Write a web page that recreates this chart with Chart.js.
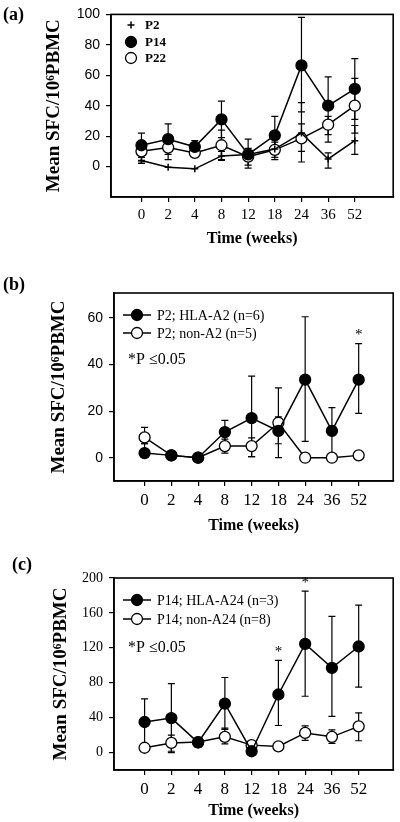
<!DOCTYPE html>
<html><head><meta charset="utf-8">
<script src="https://cdn.jsdelivr.net/npm/chart.js@4.4.0/dist/chart.umd.min.js"></script>
<style>
html,body{margin:0;padding:0;background:#fff;}
#wrap{position:relative;width:400px;height:822px;overflow:hidden;background:#fff;}
canvas{position:absolute;left:0;}
</style></head><body>
<div id="wrap">
<canvas id="ca" width="400" height="250" style="top:0px"></canvas>
<canvas id="cb" width="400" height="270" style="top:270px"></canvas>
<canvas id="cc" width="400" height="282" style="top:540px"></canvas>
</div>
<script>
// ---------- data ----------
const weeks = ['0','2','4','8','12','18','24','36','52'];

// panel (a)
const aTicks = [0, 20, 40, 60, 80, 100];
const p2   = [4, -0.5, -1.5, 7, 8, 11.5, 22, 5, 17];
const p2Lo = [2, -0.5, -1.5, 4, 6, 4.5, 3, -1, 8];
const p2Hi = [6, -0.5, -1.5, 10, 10, 18, 42, 9, 27];
const p14   = [14, 18, 13, 31, 8, 20.5, 66.5, 40, 51];
const p14Lo = [6, 8, 8, 19, -1, 8, 36, 21, 31];
const p14Hi = [22, 28, 17, 43, 18, 33, 98, 59, 71];
const p22   = [10, 12.5, 9, 14, 6.5, 11, 18.5, 27.5, 40];
const p22Lo = [3, 4.5, 7, 4.5, 1, 6, 10, 16, 22];
const p22Hi = [16, 20, 12, 24, 12, 16, 28, 33, 58];

// panel (b)
const bTicks = [0, 20, 40, 60];
const a2   = [2, 1, 0, 11, 17, 11.5, 33.5, 11.5, 33.5];
const a2Lo = [2, 1, 0, 6, 0.5, 0, 7, 0, 19];
const a2Hi = [6, 1, 0, 16, 35, 30, 60.5, 21.5, 49];
const nonA2   = [8.7, 1, 0, 5, 5, 15, 0, 0, 1];
const nonA2Lo = [6, 1, 0, 2, 0.5, 6, 0, 0, 1];
const nonA2Hi = [13, 1, 0, 8, 8.5, 17.5, 0, 0, 1];
const bSig = [8];

// panel (c)
const cTicks = [0, 40, 80, 120, 160, 200];
const a24   = [35, 39.5, 11.5, 56, 1.5, 66.5, 124.5, 97, 121.5];
const a24Lo = [8, 0, 6, 26.5, 1.5, 31, 64.5, 41.5, 75];
const a24Hi = [61.5, 79, 17, 86, 1.5, 105.5, 185, 156, 169];
const nonA24   = [5.5, 11, 12, 18, 8.5, 7, 22.5, 18, 30];
const nonA24Lo = [5.5, 1.5, 9, 10, 8.5, 7, 14, 10.5, 13.5];
const nonA24Hi = [5.5, 20, 15, 28, 8.5, 7, 30.5, 26, 45.5];
const cSig = [5, 6];

// ---------- drawing ----------
const SERIF = '"Liberation Serif", "Times New Roman", serif';
const SANS = '"Liberation Sans", Arial, sans-serif';
Chart.defaults.color = '#000';

function drawMarker(ctx, style, x, y, r) {
  ctx.save();
  ctx.strokeStyle = '#000';
  ctx.lineWidth = 1.3;
  if (style === 'cross') {
    ctx.lineWidth = 1.5;
    ctx.beginPath();
    ctx.moveTo(x - r, y); ctx.lineTo(x + r, y);
    ctx.moveTo(x, y - r); ctx.lineTo(x, y + r);
    ctx.stroke();
  } else {
    ctx.beginPath();
    ctx.arc(x, y, r, 0, Math.PI * 2);
    ctx.fillStyle = style === 'open' ? '#fff' : '#000';
    ctx.fill();
    ctx.stroke();
  }
  ctx.restore();
}

function panel(id, cfg) {
  const datasets = cfg.series.map(s => ({
    label: s.label,
    data: s.values.map((v, i) => ({x: i, y: v})),
    errLo: s.lo, errHi: s.hi,
    borderColor: '#000', borderWidth: 1.5,
    pointStyle: s.style === 'cross' ? 'cross' : 'circle',
    pointRadius: s.style === 'cross' ? 3.5 : 5.5,
    pointBorderWidth: s.style === 'cross' ? 1.5 : 1.3,
    pointBackgroundColor: s.style === 'open' ? '#fff' : '#000',
    pointBorderColor: '#000',
    tension: 0, fill: false
  }));

  const deco = {
    id: 'deco' + id,
    beforeDatasetsDraw(chart) {
      const ctx = chart.ctx, xs = chart.scales.x, ys = chart.scales.y;
      ctx.save();
      ctx.strokeStyle = '#000';
      ctx.lineWidth = 1.2;
      chart.data.datasets.forEach(ds => {
        ds.data.forEach((p, i) => {
          const lo = ds.errLo[i], hi = ds.errHi[i];
          if (lo === hi) return;
          const x = xs.getPixelForValue(p.x);
          const y1 = ys.getPixelForValue(lo), y2 = ys.getPixelForValue(hi);
          ctx.beginPath();
          ctx.moveTo(x, y1); ctx.lineTo(x, y2);
          ctx.moveTo(x - 3.5, y1); ctx.lineTo(x + 3.5, y1);
          ctx.moveTo(x - 3.5, y2); ctx.lineTo(x + 3.5, y2);
          ctx.stroke();
        });
      });
      ctx.restore();
    },
    afterDraw(chart) {
      const ctx = chart.ctx, a = chart.chartArea;
      const xs = chart.scales.x, ys = chart.scales.y;
      ctx.save();
      ctx.strokeStyle = '#000';
      ctx.lineWidth = 1.6;
      ctx.strokeRect(a.left, a.top, a.right - a.left, a.bottom - a.top);
      // panel letter
      ctx.fillStyle = '#000';
      ctx.font = 'bold 18px ' + SERIF;
      ctx.textBaseline = 'middle';
      ctx.textAlign = 'left';
      ctx.fillText(cfg.letter, cfg.letterX, cfg.letterY);
      // legend
      const L = cfg.legend;
      ctx.font = L.font;
      cfg.series.forEach((s, k) => {
        const y = L.ys[k];
        if (L.line) {
          ctx.lineWidth = 1.5;
          ctx.beginPath();
          ctx.moveTo(L.lineX1, y); ctx.lineTo(L.lineX2, y);
          ctx.stroke();
        }
        drawMarker(ctx, s.style, L.markX, y, s.style === 'cross' ? 3.5 : L.r);
        ctx.fillStyle = '#000';
        ctx.fillText(s.label, L.textX, y + 1);
      });
      // p-value note and asterisks
      if (cfg.note) {
        ctx.font = '16px ' + SERIF;
        ctx.fillText(cfg.note, cfg.noteX, cfg.noteY);
      }
      if (cfg.sig) {
        ctx.font = '15px ' + SERIF;
        ctx.textAlign = 'center';
        const ds = chart.data.datasets[0];
        cfg.sig.forEach(i => {
          const x = xs.getPixelForValue(i);
          const y = ys.getPixelForValue(ds.errHi[i]) - 8;
          ctx.fillText('*', x, y);
        });
      }
      ctx.restore();
    }
  };

  return new Chart(document.getElementById(id), {
    type: 'line',
    data: {datasets},
    plugins: [deco],
    options: {
      responsive: false, animation: false, devicePixelRatio: 1,
      layout: {padding: {top: cfg.padTop, right: cfg.padRight, left: 0, bottom: 0}},
      plugins: {legend: {display: false}, tooltip: {enabled: false}},
      scales: {
        x: {
          type: 'linear', min: cfg.xMin, max: cfg.xMax,
          afterBuildTicks: s => { s.ticks = weeks.map((w, i) => ({value: i})); },
          afterFit: s => { s.height = cfg.xH; },
          ticks: {
            callback: v => weeks[v], autoSkip: false, maxRotation: 0,
            padding: 4, color: '#000', font: {family: SERIF, size: cfg.xFont}
          },
          grid: {drawOnChartArea: false, drawTicks: true, tickLength: 5, color: '#000', lineWidth: 1.2},
          border: {display: true, color: '#000', width: 1.6},
          title: {
            display: true, text: 'Time (weeks)', color: '#000',
            font: {family: SERIF, size: 16, weight: 'bold'},
            padding: {top: 0, bottom: cfg.xTitlePad}
          }
        },
        y: {
          min: cfg.yMin, max: cfg.yMax,
          afterBuildTicks: s => { s.ticks = cfg.yTicks.map(v => ({value: v})); },
          afterFit: s => { s.width = cfg.yW; },
          ticks: {padding: 6, color: '#000', font: {family: cfg.yFontFamily, size: 14}},
          grid: {drawOnChartArea: false, drawTicks: true, tickLength: 5, color: '#000', lineWidth: 1.2},
          border: {display: true, color: '#000', width: 1.6},
          title: {
            display: true, text: 'Mean SFC/10\u2076PBMC', color: '#000',
            font: {family: SERIF, size: 19, weight: 'bold'},
            padding: {top: cfg.yTitlePad, bottom: 0}
          }
        }
      }
    }
  });
}

panel('ca', {
  letter: '(a)', letterX: 3, letterY: 15,
  series: [
    {label: 'P2', values: p2, lo: p2Lo, hi: p2Hi, style: 'cross'},
    {label: 'P14', values: p14, lo: p14Lo, hi: p14Hi, style: 'filled'},
    {label: 'P22', values: p22, lo: p22Lo, hi: p22Hi, style: 'open'}
  ],
  legend: {line: false, markX: 131, textX: 145, ys: [25, 42, 58], r: 5.5, font: 'bold 13px ' + SERIF},
  padTop: 10, padRight: 2, yW: 111, xH: 53,
  xMin: -1.143, xMax: 9.44, xFont: 15, xTitlePad: 2,
  yMin: -20, yMax: 100, yTicks: aTicks, yFontFamily: SANS, yTitlePad: 43
});

panel('cb', {
  letter: '(b)', letterX: 3, letterY: 15,
  series: [
    {label: 'P2; HLA-A2 (n=6)', values: a2, lo: a2Lo, hi: a2Hi, style: 'filled'},
    {label: 'P2; non-A2 (n=5)', values: nonA2, lo: nonA2Lo, hi: nonA2Hi, style: 'open'}
  ],
  legend: {line: true, lineX1: 123, lineX2: 151, markX: 137, textX: 157, ys: [45, 63], r: 5.5, font: '14px ' + SERIF},
  note: '*P \u22640.05', noteX: 128, noteY: 90, sig: bSig,
  padTop: 23, padRight: 3, yW: 114, xH: 59,
  xMin: -1.143, xMax: 9.29, xFont: 17, xTitlePad: 5,
  yMin: -10, yMax: 70.7, yTicks: bTicks, yFontFamily: SANS, yTitlePad: 48
});

panel('cc', {
  letter: '(c)', letterX: 12, letterY: 25,
  series: [
    {label: 'P14; HLA-A24 (n=3)', values: a24, lo: a24Lo, hi: a24Hi, style: 'filled'},
    {label: 'P14; non-A24 (n=8)', values: nonA24, lo: nonA24Lo, hi: nonA24Hi, style: 'open'}
  ],
  legend: {line: true, lineX1: 123, lineX2: 151, markX: 137, textX: 157, ys: [60, 79], r: 5.5, font: '14px ' + SERIF},
  note: '*P \u22640.05', noteX: 128, noteY: 108, sig: cSig,
  padTop: 38, padRight: 3, yW: 114, xH: 52,
  xMin: -1.143, xMax: 9.29, xFont: 17, xTitlePad: 2,
  yMin: -20, yMax: 200, yTicks: cTicks, yFontFamily: SERIF, yTitlePad: 50
});
</script>
</body></html>
